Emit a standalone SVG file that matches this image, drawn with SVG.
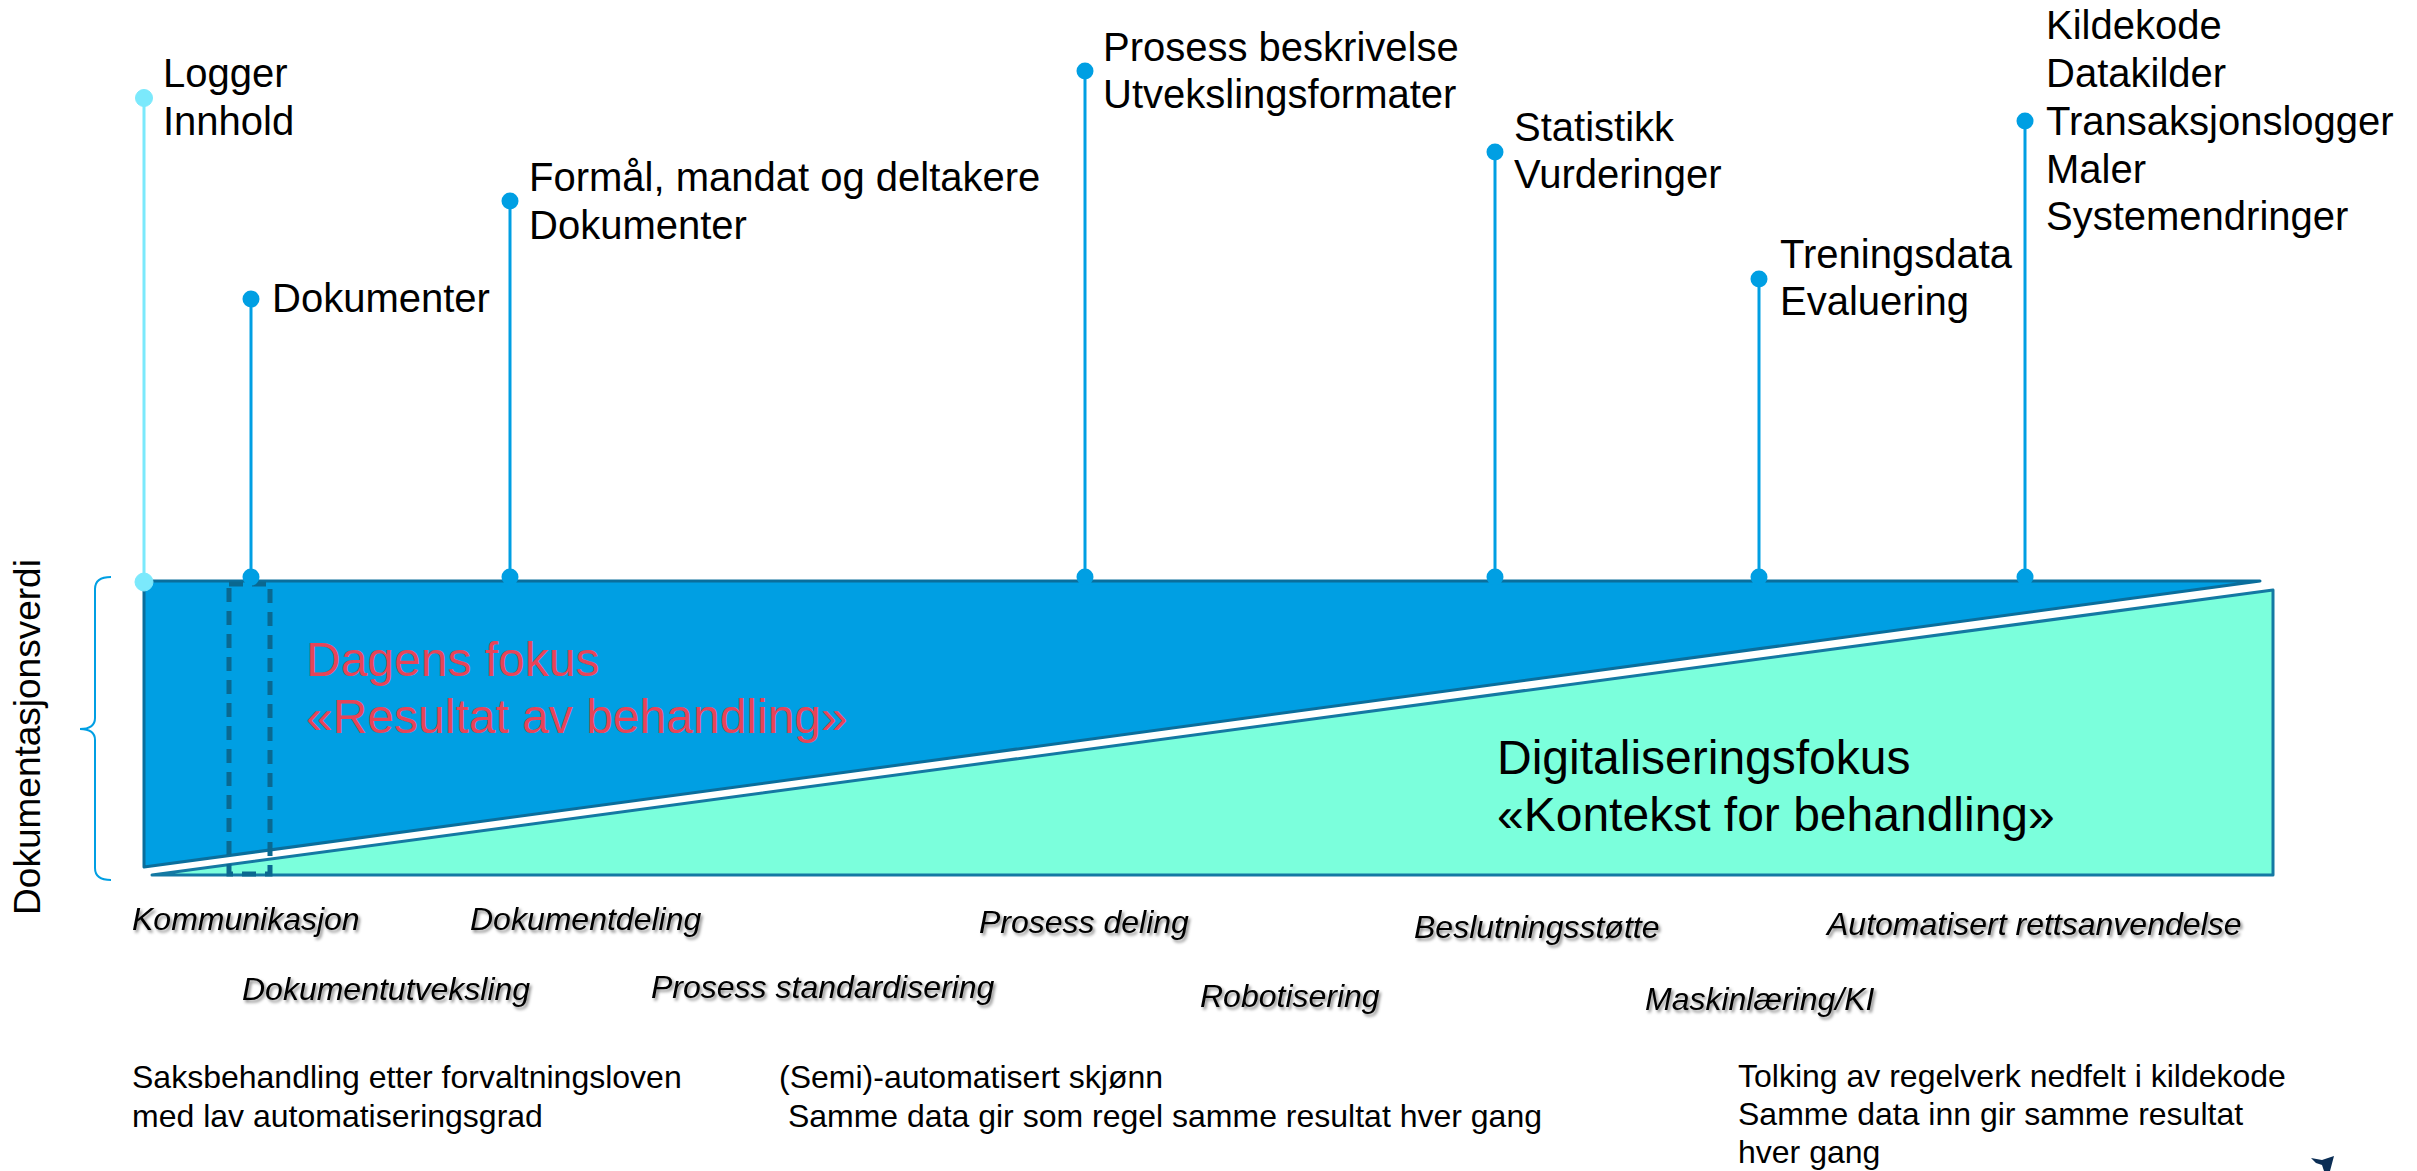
<svg xmlns="http://www.w3.org/2000/svg" width="2417" height="1171" viewBox="0 0 2417 1171">
<defs>
<style>
text{font-family:"Liberation Sans",Arial,sans-serif;fill:#000}
.lbl{font-size:40px}
.big{font-size:48px}
.cat{font-size:32px;font-style:italic;filter:url(#sh)}
.body{font-size:32px}
.stem{stroke:#009FE3;stroke-width:3;fill:none}
.dot{fill:#009FE3}
.cyan{stroke:#7BE9FC;fill:#7BE9FC}
</style>
<filter id="sh" x="-5%" y="-30%" width="110%" height="160%">
<feDropShadow dx="2" dy="2.5" stdDeviation="1.5" flood-color="#000" flood-opacity="0.45"/>
</filter>
</defs>
<rect width="2417" height="1171" fill="#fff"/>

<g id="band">
<polygon points="144,581 2260,581 144,867" fill="#009FE3" stroke="#0A6E9C" stroke-width="3" stroke-linejoin="round"/>
<polygon points="152,875 2273,590 2273,875" fill="#7BFFDC" stroke="#1479A3" stroke-width="3" stroke-linejoin="round"/>
<rect x="229" y="584" width="41" height="290" fill="none" stroke="#0A6890" stroke-width="5" stroke-dasharray="14 9"/>
<text x="306" y="676" class="big" style="fill:#E84458">Dagens fokus</text>
<text x="306" y="733" class="big" style="fill:#E84458">«Resultat av behandling»</text>
<text x="1497" y="774" class="big">Digitaliseringsfokus</text>
<text x="1497" y="831" class="big">«Kontekst for behandling»</text>
</g>

<g id="axis">
<path d="M111,577 Q95,577 95,589 L95,718 Q95,729 80,729 Q95,729 95,740 L95,868 Q95,880 111,880" fill="none" stroke="#009FE3" stroke-width="2"/>
<text transform="translate(40,737) rotate(-90)" style="font-size:37px" text-anchor="middle">Dokumentasjonsverdi</text>
</g>

<g id="connectors">
<line x1="144" y1="98" x2="144" y2="582" class="cyan" stroke-width="3"/>
<line x1="251" y1="299" x2="251" y2="577" class="stem"/>
<line x1="510" y1="201" x2="510" y2="577" class="stem"/>
<line x1="1085" y1="71" x2="1085" y2="577" class="stem"/>
<line x1="1495" y1="152" x2="1495" y2="577" class="stem"/>
<line x1="1759" y1="279" x2="1759" y2="577" class="stem"/>
<line x1="2025" y1="121" x2="2025" y2="577" class="stem"/>
</g>

<g id="n-logger">
<circle cx="144" cy="98" r="8.5" class="cyan"/>
<circle cx="144" cy="582" r="9" class="cyan"/>
<text x="163" y="87" class="lbl">Logger</text>
<text x="163" y="135" class="lbl">Innhold</text>
</g>
<g id="n-dokumenter">
<circle cx="251" cy="299" r="8.5" class="dot"/>
<circle cx="251" cy="577" r="8.5" class="dot"/>
<text x="272" y="312" class="lbl">Dokumenter</text>
</g>
<g id="n-formal">
<circle cx="510" cy="201" r="8.5" class="dot"/>
<circle cx="510" cy="577" r="8.5" class="dot"/>
<text x="529" y="191" class="lbl">Formål, mandat og deltakere</text>
<text x="529" y="239" class="lbl">Dokumenter</text>
</g>
<g id="n-prosess">
<circle cx="1085" cy="71" r="8.5" class="dot"/>
<circle cx="1085" cy="577" r="8.5" class="dot"/>
<text x="1103" y="61" class="lbl">Prosess beskrivelse</text>
<text x="1103" y="108" class="lbl">Utvekslingsformater</text>
</g>
<g id="n-statistikk">
<circle cx="1495" cy="152" r="8.5" class="dot"/>
<circle cx="1495" cy="577" r="8.5" class="dot"/>
<text x="1514" y="141" class="lbl">Statistikk</text>
<text x="1514" y="188" class="lbl">Vurderinger</text>
</g>
<g id="n-trening">
<circle cx="1759" cy="279" r="8.5" class="dot"/>
<circle cx="1759" cy="577" r="8.5" class="dot"/>
<text x="1780" y="268" class="lbl">Treningsdata</text>
<text x="1780" y="315" class="lbl">Evaluering</text>
</g>
<g id="n-kildekode">
<circle cx="2025" cy="121" r="8.5" class="dot"/>
<circle cx="2025" cy="577" r="8.5" class="dot"/>
<text x="2046" y="39" class="lbl">Kildekode</text>
<text x="2046" y="87" class="lbl">Datakilder</text>
<text x="2046" y="135" class="lbl">Transaksjonslogger</text>
<text x="2046" y="183" class="lbl">Maler</text>
<text x="2046" y="230" class="lbl">Systemendringer</text>
</g>

<g id="categories">
<text x="132" y="930" class="cat">Kommunikasjon</text>
<text x="470" y="930" class="cat">Dokumentdeling</text>
<text x="979" y="933" class="cat">Prosess deling</text>
<text x="1414" y="938" class="cat">Beslutningsstøtte</text>
<text x="1827" y="935" class="cat">Automatisert rettsanvendelse</text>
<text x="242" y="1000" class="cat">Dokumentutveksling</text>
<text x="651" y="998" class="cat">Prosess standardisering</text>
<text x="1200" y="1007" class="cat">Robotisering</text>
<text x="1645" y="1010" class="cat">Maskinlæring/KI</text>
</g>

<g id="notes">
<text x="132" y="1088" class="body">Saksbehandling etter forvaltningsloven</text>
<text x="132" y="1127" class="body">med lav automatiseringsgrad</text>
<text x="779" y="1088" class="body">(Semi)-automatisert skjønn</text>
<text x="779" y="1127" class="body" xml:space="preserve"> Samme data gir som regel samme resultat hver gang</text>
<text x="1738" y="1087" class="body">Tolking av regelverk nedfelt i kildekode</text>
<text x="1738" y="1125" class="body">Samme data inn gir samme resultat</text>
<text x="1738" y="1163" class="body">hver gang</text>
</g>

<path d="M2311,1158 L2322,1160 L2334,1156 L2330,1171 L2324,1171 L2322,1165 L2316,1163 Z" fill="#0B2E55"/>
</svg>
